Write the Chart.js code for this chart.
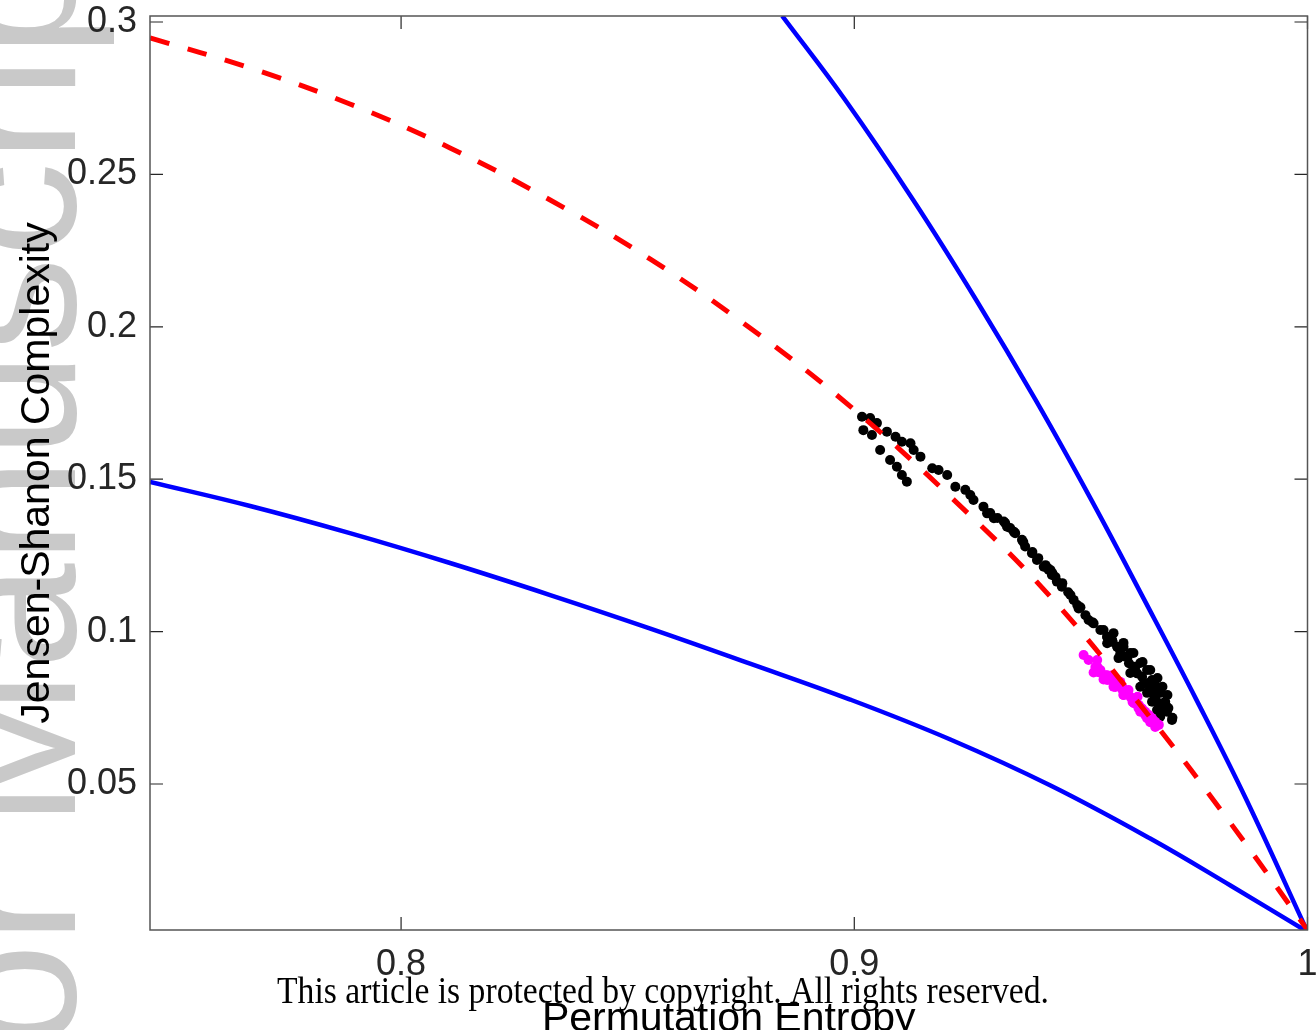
<!DOCTYPE html>
<html>
<head>
<meta charset="utf-8">
<script src="https://cdn.jsdelivr.net/npm/chart.js@4.4.0/dist/chart.umd.min.js"></script>
<style>
  html, body { margin: 0; padding: 0; background: #fff; overflow: hidden; }
  #wrap { position: relative; width: 1316px; height: 1030px; overflow: hidden; }
  #chart { position: absolute; left: 0; top: 0; width: 1316px; height: 1070px; }
</style>
</head>
<body>
<div id="wrap"><canvas id="chart" width="1316" height="1070"></canvas></div>
<script>
const FONT = '"Liberation Sans", Arial, Helvetica, sans-serif';

const xTicks = [0.8, 0.9, 1];
const yTicks = [0.05, 0.1, 0.15, 0.2, 0.25, 0.3];

// upper bound (max complexity)
const maxCurveX = [0.8841, 0.8980, 0.9130, 0.9269, 0.9400, 0.9523, 0.9640, 0.9755, 0.9865, 1.0];
const maxCurveY = [0.3020, 0.2744, 0.2416, 0.2088, 0.1760, 0.1432, 0.1104, 0.0776, 0.0449, 0.0015];

// lower bound (min complexity)
const minCurveX = [0.7446, 0.7667, 0.7887, 0.8108, 0.8329, 0.8550, 0.8770, 0.8991, 0.9212, 0.9433, 0.9653, 0.9830, 1.0];
const minCurveY = [0.1491, 0.1412, 0.1323, 0.1225, 0.1120, 0.1010, 0.0895, 0.0777, 0.0646, 0.0495, 0.0321, 0.0167, 0.0015];

// red dashed reference curve
const refCurveX = [0.7446, 0.7667, 0.7887, 0.8108, 0.8329, 0.8550, 0.8770, 0.8991, 0.9212, 0.9433, 0.9653, 0.9830, 1.0];
const refCurveY = [0.2948, 0.2849, 0.2731, 0.2587, 0.2416, 0.2222, 0.1996, 0.1739, 0.1443, 0.1114, 0.0718, 0.0372, 0.0021];

// black points
const blackX = [0.9017, 0.9035, 0.9020, 0.9039, 0.9050, 0.9072, 0.9091, 0.9105, 0.9124, 0.9131, 0.9146, 0.9057, 0.9079, 0.9094, 0.9105, 0.9116,
  0.9172, 0.9186, 0.9205, 0.9223, 0.9245, 0.9256, 0.9263, 0.9285, 0.9293, 0.9308, 0.9330, 0.9337, 0.9352, 0.9370, 0.9377, 0.9392,
  0.9403, 0.9418, 0.9429, 0.9436, 0.9447, 0.9458, 0.9477, 0.9484, 0.9495, 0.9517, 0.9528, 0.9550, 0.9558, 0.9569, 0.9580, 0.9587,
  0.9598, 0.9606, 0.9617, 0.9624, 0.9635, 0.9639, 0.9653, 0.9657, 0.9664, 0.9672, 0.9679, 0.9690, 0.9701,
  0.9572, 0.9594, 0.9609, 0.9631, 0.9646, 0.9657, 0.9668, 0.9675, 0.9686, 0.9693,
  0.9558, 0.9583, 0.9609, 0.9631, 0.9646, 0.9657, 0.9668, 0.9675,
  0.9492, 0.9510, 0.9525, 0.9543, 0.9558, 0.9570, 0.9581, 0.9603, 0.9620, 0.9649, 0.9669, 0.9687, 0.9702,
  0.9616, 0.9636, 0.9653, 0.9669, 0.9680, 0.9691, 0.9594,
  0.9300, 0.9316, 0.9333, 0.9344, 0.9355, 0.9373, 0.9393, 0.9406, 0.9422, 0.9433, 0.9444, 0.9459, 0.9472, 0.9499, 0.9437, 0.9426];
const blackY = [0.1705, 0.1701, 0.1661, 0.1645, 0.1684, 0.1656, 0.1639, 0.1623, 0.1618, 0.1596, 0.1574, 0.1596, 0.1563, 0.1541, 0.1514, 0.1492,
  0.1536, 0.1530, 0.1514, 0.1475, 0.1465, 0.1448, 0.1432, 0.1410, 0.1388, 0.1372, 0.1361, 0.1344, 0.1328, 0.1301, 0.1279, 0.1257,
  0.1235, 0.1213, 0.1202, 0.1186, 0.1164, 0.1147, 0.1120, 0.1104, 0.1076, 0.1038, 0.1027, 0.1005, 0.0983, 0.0972, 0.0950, 0.0929,
  0.0918, 0.0896, 0.0885, 0.0863, 0.0852, 0.0830, 0.0819, 0.0798, 0.0781, 0.0765, 0.0748, 0.0737, 0.0710,
  0.0995, 0.0950, 0.0930, 0.0897, 0.0874, 0.0841, 0.0819, 0.0799, 0.0770, 0.0749,
  0.0962, 0.0913, 0.0864, 0.0819, 0.0799, 0.0770, 0.0743, 0.0721,
  0.1087, 0.1054, 0.1031, 0.1005, 0.0982, 0.0966, 0.0949, 0.0917, 0.0884, 0.0831, 0.0798, 0.0759, 0.0717,
  0.0930, 0.0900, 0.0874, 0.0848, 0.0819, 0.0792, 0.0963,
  0.1389, 0.1373, 0.1356, 0.1340, 0.1323, 0.1294, 0.1261, 0.1241, 0.1218, 0.1202, 0.1179, 0.1159, 0.1129, 0.1080, 0.1192, 0.1209];

// magenta points
const magentaX = [0.9506, 0.9517, 0.9536, 0.9543, 0.9558, 0.9569, 0.9580, 0.9591, 0.9602, 0.9609, 0.9620, 0.9628, 0.9635, 0.9642,
  0.9650, 0.9657, 0.9664, 0.9672, 0.9528, 0.9550, 0.9572, 0.9594, 0.9617, 0.9631, 0.9646, 0.9661, 0.9536,
  0.9532, 0.9554, 0.9565, 0.9592, 0.9614, 0.9636, 0.9658, 0.9669, 0.9539, 0.9558, 0.9576, 0.9594, 0.9614, 0.9627,
  0.9642, 0.9653, 0.9664, 0.9625, 0.9605, 0.9587, 0.9570];
const magentaY = [0.0923, 0.0907, 0.0885, 0.0874, 0.0857, 0.0847, 0.0830, 0.0819, 0.0803, 0.0786, 0.0776, 0.0759, 0.0748, 0.0737,
  0.0726, 0.0716, 0.0704, 0.0694, 0.0866, 0.0843, 0.0819, 0.0792, 0.0765, 0.0737, 0.0716, 0.0699, 0.0907,
  0.0884, 0.0857, 0.0841, 0.0808, 0.0776, 0.0743, 0.0710, 0.0694, 0.0867, 0.0841, 0.0818, 0.0792, 0.0769, 0.0749,
  0.0726, 0.0703, 0.0687, 0.0786, 0.0808, 0.0835, 0.0857];

const pts = (xs, ys) => xs.map((x, i) => ({ x: x, y: ys[i] }));

const watermark = {
  id: 'watermark',
  beforeDraw(chart) {
    const c = chart.ctx;
    c.save();
    c.fillStyle = '#c9c9c9';
    c.font = '190px ' + FONT;
    c.textBaseline = 'alphabetic';
    c.translate(75, 1440);
    c.rotate(-Math.PI / 2);
    c.fillText('Author Manuscript', 0, 0);
    c.restore();
  }
};

// box with inward ticks on all four sides
const frame = {
  id: 'frame',
  afterDatasetsDraw(chart) {
    const c = chart.ctx;
    const a = chart.chartArea;
    const sx = chart.scales.x, sy = chart.scales.y;
    const len = 13;
    c.save();
    c.strokeStyle = '#262626';
    c.lineWidth = 1.2;
    c.beginPath();
    xTicks.forEach(v => {
      const px = sx.getPixelForValue(v);
      c.moveTo(px, a.bottom); c.lineTo(px, a.bottom - len);
      c.moveTo(px, a.top); c.lineTo(px, a.top + len);
    });
    yTicks.forEach(v => {
      const py = sy.getPixelForValue(v);
      c.moveTo(a.left, py); c.lineTo(a.left + len, py);
      c.moveTo(a.right, py); c.lineTo(a.right - len, py);
    });
    c.stroke();
    c.strokeStyle = '#555555';
    c.lineWidth = 1.5;
    c.strokeRect(a.left, a.top, a.right - a.left, a.bottom - a.top);
    c.restore();
  }
};

const copyright = {
  id: 'copyright',
  afterDraw(chart) {
    const c = chart.ctx;
    const txt = 'This article is protected by copyright. All rights reserved.';
    c.save();
    c.font = '37px "Liberation Serif", "Times New Roman", serif';
    c.fillStyle = '#000';
    c.textBaseline = 'alphabetic';
    c.textAlign = 'center';
    const w = c.measureText(txt).width;
    c.translate(663, 1003);
    c.scale(772 / w, 1);
    c.fillText(txt, 0, 0);
    c.restore();
  }
};

new Chart(document.getElementById('chart'), {
  type: 'scatter',
  data: {
    datasets: [
      {
        type: 'line', label: 'reference', data: pts(refCurveX, refCurveY),
        borderColor: '#ff0000', borderWidth: 5, borderDash: [20, 19],
        pointRadius: 0, fill: false, tension: 0.4, order: 0
      },
      {
        label: 'magenta', data: pts(magentaX, magentaY),
        backgroundColor: '#ff00ff', borderWidth: 0, pointRadius: 5, order: 1
      },
      {
        label: 'black', data: pts(blackX, blackY),
        backgroundColor: '#000000', borderWidth: 0, pointRadius: 5, order: 2
      },
      {
        type: 'line', label: 'max', data: pts(maxCurveX, maxCurveY),
        borderColor: '#0000ff', borderWidth: 4.5, pointRadius: 0, fill: false,
        tension: 0.4, order: 3
      },
      {
        type: 'line', label: 'min', data: pts(minCurveX, minCurveY),
        borderColor: '#0000ff', borderWidth: 4.5, pointRadius: 0, fill: false,
        tension: 0.4, order: 4
      }
    ]
  },
  options: {
    responsive: false,
    animation: false,
    devicePixelRatio: 1,
    layout: { padding: { left: 0, right: 8.5, top: 16, bottom: 0 } },
    plugins: { legend: { display: false }, tooltip: { enabled: false } },
    scales: {
      x: {
        type: 'linear', min: 0.7446, max: 1.0,
        grid: { display: false, drawTicks: false },
        border: { display: false },
        afterBuildTicks: s => { s.ticks = xTicks.map(v => ({ value: v })); },
        afterFit: s => { s.height = 140; s.paddingLeft = 0; s.paddingRight = 0; },
        ticks: {
          color: '#262626', padding: 13, maxRotation: 0, autoSkip: false,
          font: { family: FONT, size: 36 }, callback: v => String(v)
        },
        title: {
          display: true, text: 'Permutation Entropy', color: '#000',
          font: { family: FONT, size: 41 }, padding: { top: 0, bottom: 26 }
        }
      },
      y: {
        type: 'linear', min: 0.0021, max: 0.30197,
        grid: { display: false, drawTicks: false },
        border: { display: false },
        afterBuildTicks: s => { s.ticks = yTicks.map(v => ({ value: v })); },
        afterFit: s => { s.width = 150; s.paddingTop = 0; s.paddingBottom = 0; },
        ticks: {
          color: '#262626', padding: 13, autoSkip: false,
          font: { family: FONT, size: 36 }, callback: v => String(v)
        },
        title: {
          display: true, text: 'Jensen-Shanon Complexity', color: '#000',
          font: { family: FONT, size: 41 }, padding: { top: 13, bottom: 0 }
        }
      }
    }
  },
  plugins: [watermark, frame, copyright]
});
</script>
</body>
</html>
